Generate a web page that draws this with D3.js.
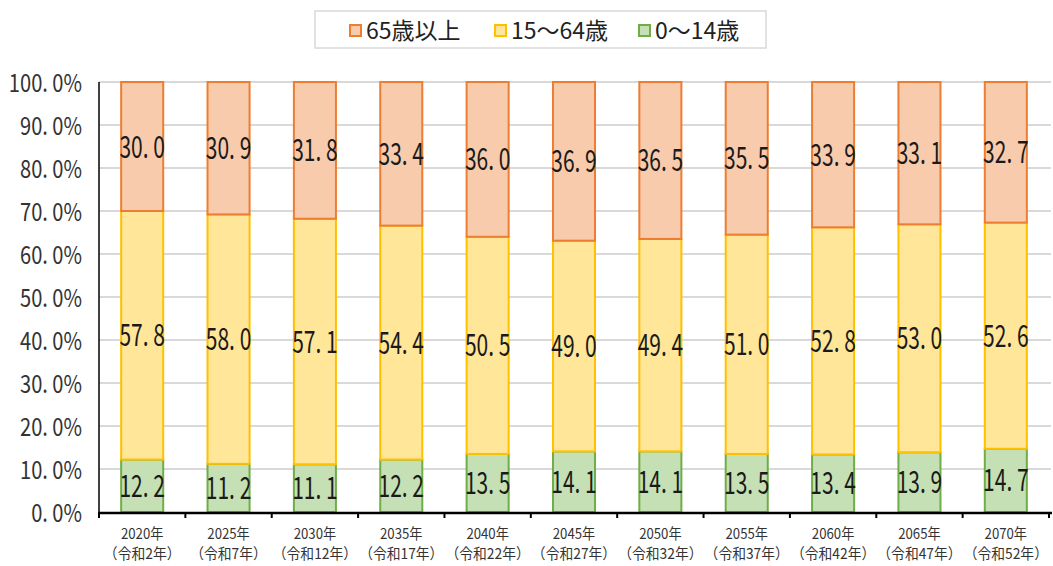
<!DOCTYPE html>
<html><head><meta charset="utf-8">
<script src="https://cdn.jsdelivr.net/npm/d3@7"></script>
<style>body{margin:0;background:#fff}svg{display:block}</style>
</head><body><svg id="c" width="1053" height="566"></svg>
<script>
const years = ["2020年","2025年","2030年","2035年","2040年","2045年","2050年","2055年","2060年","2065年","2070年"];
const eras = ["（令和2年）","（令和7年）","（令和12年）","（令和17年）","（令和22年）","（令和27年）","（令和32年）","（令和37年）","（令和42年）","（令和47年）","（令和52年）"];
const age0_14 = [12.2,11.2,11.1,12.2,13.5,14.1,14.1,13.5,13.4,13.9,14.7];
const age15_64 = [57.8,58.0,57.1,54.4,50.5,49.0,49.4,51.0,52.8,53.0,52.6];
const age65 = [30.0,30.9,31.8,33.4,36.0,36.9,36.5,35.5,33.9,33.1,32.7];
const seriesNames = ["65歳以上","15～64歳","0～14歳"];
const yTicks = [0,10,20,30,40,50,60,70,80,90,100];

const fills = {"0～14歳":"#C5E0B4","15～64歳":"#FFE699","65歳以上":"#F8CBAD"};
const strokes = {"0～14歳":"#70AD47","15～64歳":"#FFC000","65歳以上":"#ED7D31"};
const FONT = "'Noto Sans CJK JP','Noto Sans',sans-serif";

const svg = d3.select("#c");
const pl = 99, pr = 1049, pt = 82, pb = 512;
const x = d3.scaleBand().domain(years).range([pl, pr]).paddingInner(0.49).paddingOuter(0.245);
const y = d3.scaleLinear().domain([0,100]).range([pb, pt]).clamp(true);

// gridlines
svg.append("g").selectAll("line").data(yTicks.filter(d=>d>0)).join("line")
  .attr("x1", pl).attr("x2", pr+2).attr("y1", d=>y(d)).attr("y2", d=>y(d))
  .attr("stroke", "#d9d9d9").attr("stroke-width", 2);

const table = years.map((yr,i)=>({year:yr, "0～14歳":age0_14[i], "15～64歳":age15_64[i], "65歳以上":age65[i]}));
const stack = d3.stack().keys(["0～14歳","15～64歳","65歳以上"]);
const layers = stack(table);
const src = {"0～14歳":age0_14, "15～64歳":age15_64, "65歳以上":age65};

const g = svg.append("g");
layers.forEach(layer=>{
  const k = layer.key;
  g.append("g").selectAll("rect").data(layer).join("rect")
    .attr("x", d=>x(d.data.year)+1)
    .attr("width", x.bandwidth()-2)
    .attr("y", d=>y(d[1]))
    .attr("height", d=>y(d[0])-y(d[1]))
    .attr("fill", fills[k]).attr("stroke", strokes[k]).attr("stroke-width", 2);
});
layers.forEach(layer=>{
  g.append("g").selectAll("text").data(layer).join("text")
    .attr("transform", d=>`translate(${x(d.data.year)+x.bandwidth()/2},${(y(d[0])+y(d[1]))/2+11}) scale(0.7,1)`)
    .attr("text-anchor","middle")
    .attr("font-family", FONT).attr("font-size", 30).attr("fill","#1a1a1a")
    .text((d,i)=>src[layer.key][i].toFixed(1).replace(".", ". "));
});

// y axis
svg.append("line").attr("x1",pl).attr("x2",pl).attr("y1",pt).attr("y2",pb+1)
  .attr("stroke","#000").attr("stroke-width",1.5);
svg.append("g").selectAll("text").data(yTicks).join("text")
  .attr("transform", d=>`translate(82,${y(d)+10}) scale(0.82,1)`)
  .attr("text-anchor","end")
  .attr("font-family",FONT).attr("font-size",24.5).attr("fill","#333")
  .text(d=>d.toFixed(1).replace(".", ". ")+"%");

// x axis
const xa = svg.append("g").attr("transform",`translate(0,${pb+1})`);
xa.append("line").attr("x1",pl-1).attr("x2",pr+3).attr("stroke","#000").attr("stroke-width",2.5);
const step = x.step();
xa.selectAll("line.tk").data(d3.range(years.length+1)).join("line").attr("class","tk")
  .attr("x1",i=>pl+i*step).attr("x2",i=>pl+i*step).attr("y1",0).attr("y2",5)
  .attr("stroke","#000").attr("stroke-width",2);
xa.selectAll("text.yr").data(years).join("text").attr("class","yr")
  .attr("transform",d=>`translate(${x(d)+x.bandwidth()/2},${26}) scale(0.88,1)`).attr("text-anchor","middle")
  .attr("font-family",FONT).attr("font-size",15).attr("fill","#333").text(d=>d);
xa.selectAll("text.era").data(eras).join("text").attr("class","era")
  .attr("transform",(d,i)=>`translate(${x(years[i])+x.bandwidth()/2},${46}) scale(0.92,1)`).attr("text-anchor","middle")
  .attr("font-family",FONT).attr("font-size",15).attr("fill","#333").text(d=>d);

// legend
const lg = svg.append("g");
lg.append("rect").attr("x",315).attr("y",11).attr("width",451).attr("height",37)
  .attr("fill","#fff").attr("stroke","#d9d9d9").attr("stroke-width",1.5);
const lx = [350, 495, 639];
seriesNames.forEach((n,i)=>{
  lg.append("rect").attr("x",lx[i]).attr("y",25).attr("width",11).attr("height",11)
    .attr("fill",fills[n]).attr("stroke",strokes[n]).attr("stroke-width",2);
  lg.append("text").attr("transform",`translate(${lx[i]+16},39)`).attr("font-family",FONT)
    .attr("font-size",23).attr("fill","#222").text(n);
});
</script></body></html>
